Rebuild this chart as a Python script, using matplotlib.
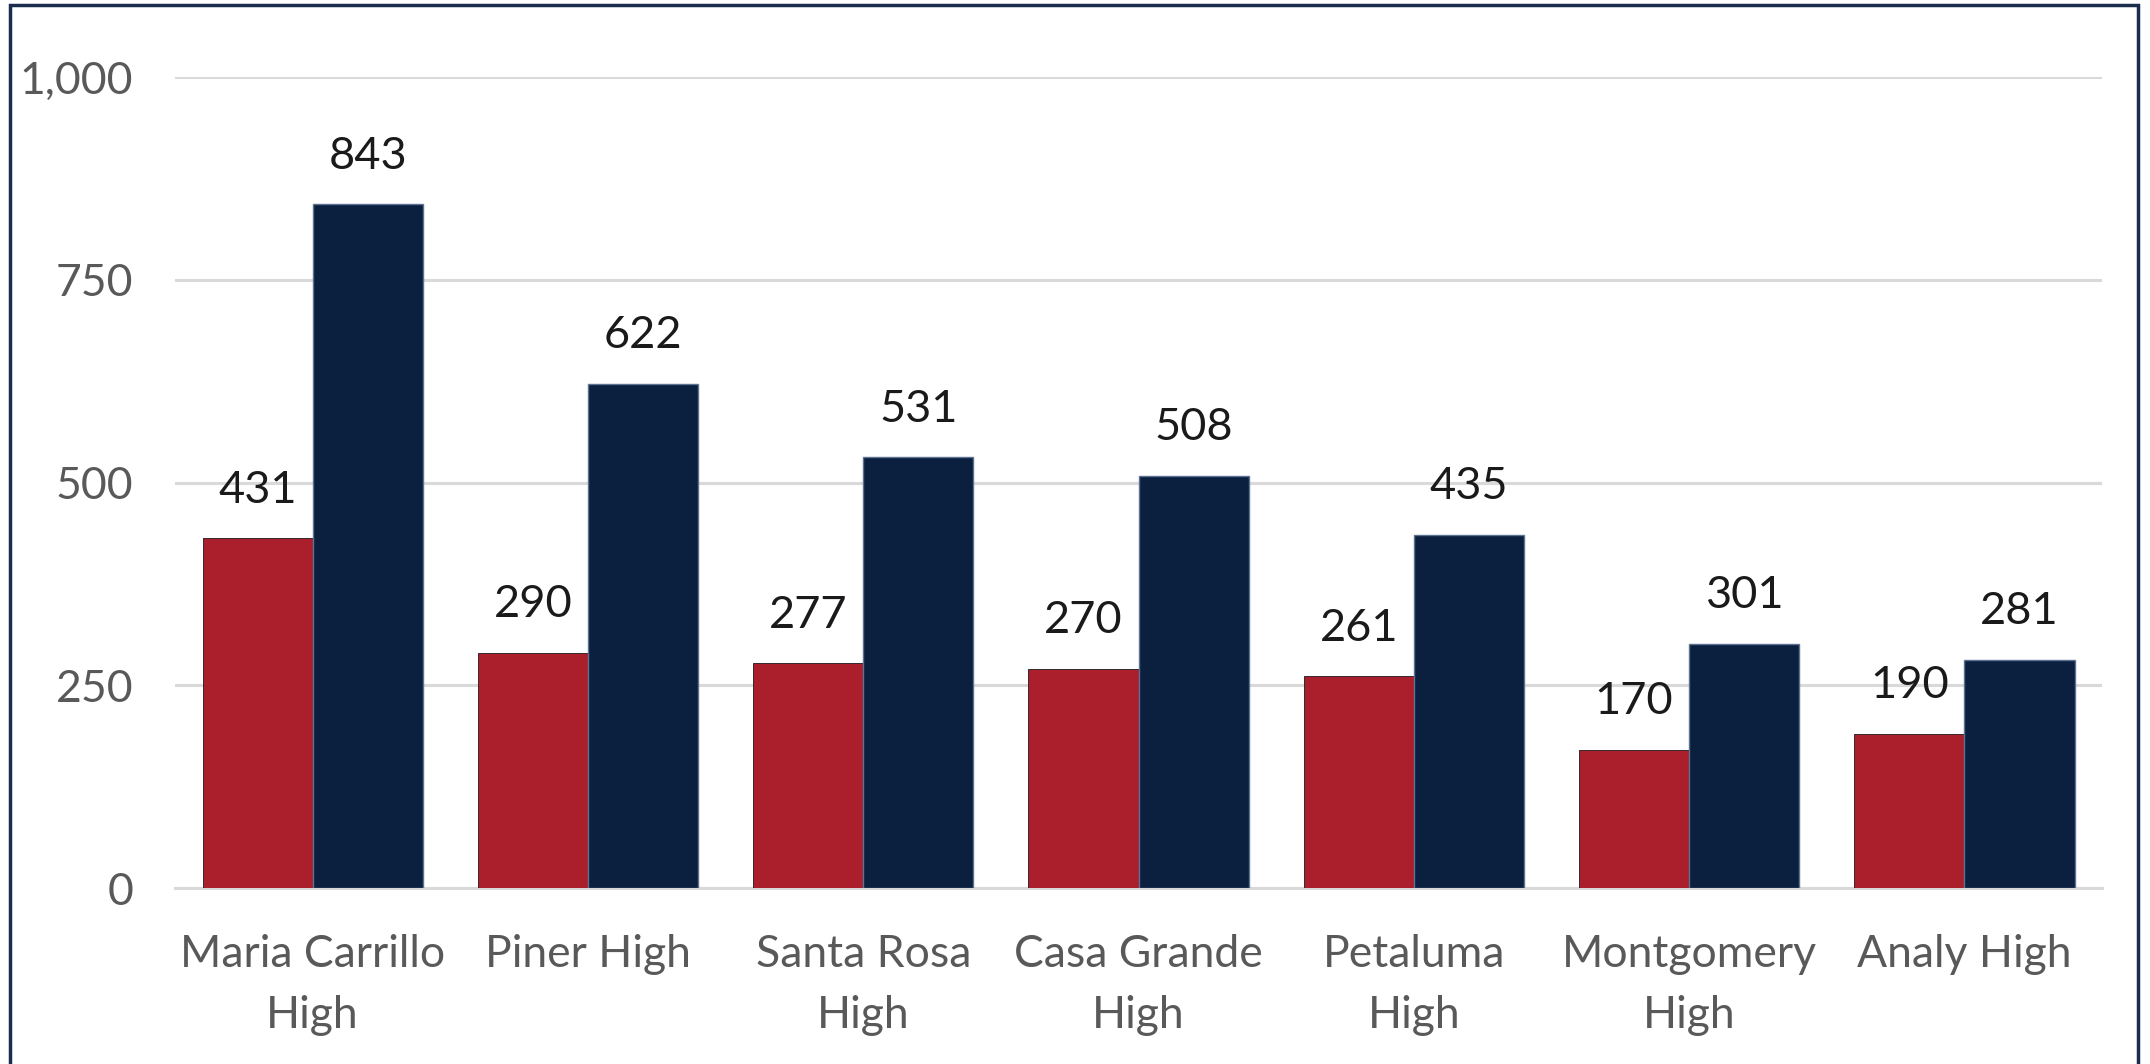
#!/usr/bin/env python3
"""Grouped bar chart: two series per high school, value labels on top."""
import matplotlib

matplotlib.use("Agg")
import matplotlib.pyplot as plt
from matplotlib.patches import Rectangle
from matplotlib.ticker import FuncFormatter
import numpy as np

SCHOOLS = ["Maria Carrillo\nHigh", "Piner High", "Santa Rosa\nHigh", "Casa Grande\nHigh",
           "Petaluma\nHigh", "Montgomery\nHigh", "Analy High"]
RED_VALUES = [431, 290, 277, 270, 261, 170, 190]
NAVY_VALUES = [843, 622, 531, 508, 435, 301, 281]
Y_TICKS = [0, 250, 500, 750, 1000]

RED = "#AB1F2D"
NAVY = "#0B1F3F"

plt.rcParams["font.family"] = ["Lato", "DejaVu Sans"]


def main():
    fig = plt.figure(figsize=(21.5, 10.64), dpi=100)
    ax = fig.add_axes([0.0814, 0.1654, 0.8963, 0.7622])

    x = np.arange(len(SCHOOLS))
    w = 0.4
    red = ax.bar(x - w / 2, RED_VALUES, w, color=RED, edgecolor="#1a1a1a", linewidth=0.6, zorder=3)
    navy = ax.bar(x + w / 2, NAVY_VALUES, w, color=NAVY, edgecolor="#5c7391", linewidth=1.0, zorder=3)

    for bars, vals in ((red, RED_VALUES), (navy, NAVY_VALUES)):
        for b, v in zip(bars, vals):
            ax.annotate(f"{v:,}", (b.get_x() + b.get_width() / 2, b.get_height()),
                        xytext=(0, 20), textcoords="offset points",
                        ha="center", va="bottom", fontsize=32.5, color="#1a1a1a")

    ax.set_xlim(-0.5, len(SCHOOLS) - 0.5)
    ax.set_ylim(0, 1000)
    ax.set_yticks(Y_TICKS)
    ax.yaxis.set_major_formatter(FuncFormatter(lambda v, _: f"{int(v):,}"))
    ax.set_xticks(x)
    ax.set_xticklabels(SCHOOLS, linespacing=1.6)
    ax.tick_params(axis="both", length=0, labelsize=32, labelcolor="#595959")
    ax.tick_params(axis="y", pad=30)
    ax.tick_params(axis="x", pad=33)

    ax.grid(axis="y", color="#D9D9D9", lw=2.2, zorder=0)
    ax.set_axisbelow(True)
    for s in ("top", "right", "left"):
        ax.spines[s].set_visible(False)
    ax.spines["bottom"].set_color("#D9D9D9")
    ax.spines["bottom"].set_linewidth(2.2)

    # outer chart border
    fig.patches.append(Rectangle((10 / 2150, -0.02), 2128 / 2150, 1 - 5 / 1064 + 0.02,
                                 transform=fig.transFigure, fill=False,
                                 edgecolor="#1B2D4D", linewidth=2.5))

    fig.savefig("out.png", dpi=100)


if __name__ == "__main__":
    main()
